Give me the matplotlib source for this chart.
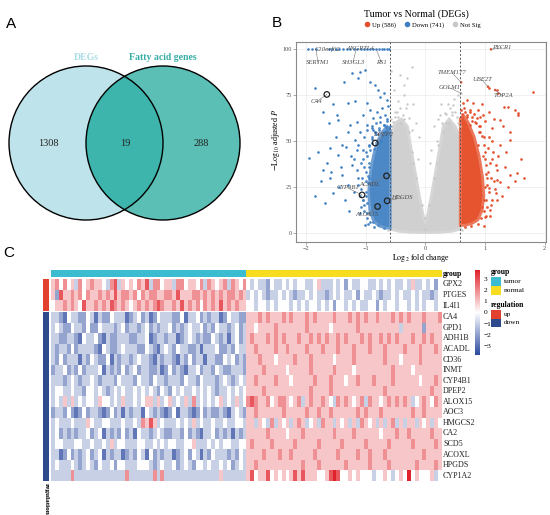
import numpy as np
import matplotlib
matplotlib.use("Agg")
import matplotlib.pyplot as plt
from matplotlib.patches import Circle, Rectangle, Polygon
from matplotlib.colors import LinearSegmentedColormap, ListedColormap
from matplotlib.lines import Line2D

plt.rcParams["font.family"] = ["Liberation Serif", "DejaVu Serif"]
plt.rcParams["mathtext.fontset"] = "stix"

W, H = 550, 515

# ---------------- A: Venn ----------------
venn_names = ["DEGs", "Fatty acid genes"]
venn_counts = [1308, 19, 288]  # DEGs only, both, fatty acid only

# ---------------- B: volcano ----------------
legend_labels = ["Up (586)", "Down (741)", "Not Sig"]
fc_cut = 0.585

# points capped at -log10 P = 100
capped_x = [-1.97, -1.90, -1.83, -1.62, -1.56, -1.50, -1.44, -1.38, -1.32, -1.26, -1.20,
            -1.14, -1.08, -1.02, -0.97, -0.92, -0.87, -0.82, -0.77, -0.73, -0.69, -0.65, -0.61]
capped_y = [100] * len(capped_x)

down_x = [-1.85, -1.37, -1.23, -1.13, -1.01, -0.93, -0.84, -0.79, -0.76, -0.70, -0.65, -1.71,
          -1.48, -1.46, -1.62, -1.15, -1.04, -0.93, -0.87, -0.81, -0.76, -0.68, -0.98, -1.26,
          -1.29, -1.09, -0.84, -1.10, -0.97, -1.18, -0.62, -0.72, -1.55, -1.30, -0.66, -0.89,
          -0.73, -1.02, -1.18, -1.40, -1.60, -1.80, -1.95, -1.71, -1.54, -1.35, -1.46, -1.23,
          -1.07, -1.60, -1.40, -1.30, -1.15, -1.25, -1.05, -1.12, -1.20, -1.00, -1.10, -1.28,
          -1.45, -1.75, -1.65, -1.33, -0.95, -1.50, -1.85, -1.68, -0.98, -1.00, -1.08, -1.42,
          -1.58, -0.99, -0.96, -1.02, -0.94, -0.97, -1.05, -0.90, -0.92, -0.88, -1.01, -0.95,
          -0.78, -0.70, -0.64, -0.83, -0.75, -0.68, -0.61, -0.86]
down_y = [78.8, 82.4, 87.0, 84.2, 88.8, 82.4, 80.6, 77.8, 74.2, 76.0, 72.4, 66.0,
          64.2, 61.5, 59.7, 60.6, 64.2, 66.9, 62.4, 66.0, 60.6, 64.2, 58.8, 58.8,
          55.1, 55.1, 55.1, 87.5, 71.0, 72.0, 69.0, 68.0, 70.0, 70.5, 57.5, 57.0,
          53.0, 52.0, 50.5, 48.0, 46.0, 44.0, 41.0, 34.2, 21.5, 17.8, 42.4, 36.9,
          14.2, 29.7, 31.5, 26.0, 45.0, 42.0, 40.0, 30.0, 22.0, 20.0, 10.5, 12.0,
          25.0, 28.0, 38.0, 47.0, 47.5, 52.0, 20.0, 16.0, 8.0, 33.0, 24.0, 36.0,
          33.0, 44.0, 27.0, 15.0, 36.0, 11.0, 18.0, 51.0, 6.0, 56.0, 4.0, 30.0,
          56.0, 58.5, 61.0, 54.0, 50.0, 55.0, 57.0, 45.5]
# points close to the dense blue core
down_mid_x = [-0.95, -0.98, -1.02, -1.00, -0.99, -0.97, -0.93, -0.88, -0.80, -0.70,
              -0.90, -0.85, -0.78, -0.70, -0.62, -0.95, -0.96, -0.93, -0.92, -0.89,
              -1.05, -1.08, -1.06, -1.04, -1.12, -1.15, -1.10, -0.90, -0.82, -0.76,
              -0.64, -0.69, -0.60, -1.02, -0.96, -0.86, -0.74, -0.97, -1.12, -1.20]
down_mid_y = [48, 42, 36, 28, 22, 16, 10, 6, 4, 2.5,
              52, 55, 57, 55, 54, 38, 31, 24, 45, 49,
              45, 38, 30, 18, 26, 34, 20, 58, 60, 63,
              62, 59, 58, 12, 5, 3, 7, 56, 48, 40]

up_x = [1.81, 1.50, 1.39, 1.06, 1.20, 0.69, 1.25, 1.56, 0.92, 1.06, 0.83, 1.42, 1.11, 1.42,
        1.25, 1.33, 1.53, 1.42, 1.25, 1.20, 1.08, 1.00, 1.18, 1.06, 0.98, 0.90, 1.00, 1.12,
        1.05, 0.75, 0.65, 0.80, 0.95, 1.15, 1.30, 0.88, 1.60, 1.35, 1.20, 1.15, 1.28, 1.10,
        1.00, 1.38, 1.50, 1.02, 1.65, 1.22, 1.31, 1.55, 0.86, 0.99, 1.04, 0.97, 1.02, 0.95,
        0.70, 0.78, 0.62, 0.74, 0.92, 0.68]
up_y = [76.6, 66.9, 68.7, 78.8, 77.8, 72.4, 61.5, 64.2, 63.3, 66.0, 60.6, 55.1, 56.9, 50.6,
        47.8, 36.0, 32.4, 31.5, 27.8, 17.8, 12.4, 8.8, 21.5, 24.2, 52.0, 58.0, 44.0, 40.0,
        33.0, 66.0, 68.0, 71.0, 70.0, 62.0, 58.0, 48.0, 40.0, 44.0, 34.0, 28.0, 20.0, 15.0,
        25.0, 25.0, 28.0, 37.0, 30.0, 76.0, 68.7, 65.2, 62.4, 18.0, 30.0, 42.0, 9.0, 14.0,
        63.0, 61.0, 65.0, 58.5, 55.0, 53.0]
# points close to the dense red core
up_mid_x = [0.98, 1.00, 1.02, 1.03, 1.01, 0.98, 0.94, 0.88, 0.76, 0.66,
            0.90, 0.85, 0.78, 0.70, 0.62, 0.95, 1.05, 1.08, 1.10, 1.07,
            1.12, 1.04, 0.92, 0.74, 0.66, 0.60, 0.82, 1.14, 1.18, 1.00,
            0.97, 0.89, 1.06, 1.12, 1.22, 1.16, 1.20, 1.09, 0.99, 0.63]
up_mid_y = [48, 40, 32, 26, 18, 12, 8, 5, 3.5, 3,
            55, 60, 63, 64, 63, 53, 46, 38, 30, 22,
            18, 14, 58, 67, 66, 67, 65, 44, 37, 61,
            64, 67, 52, 50, 42, 24, 29, 9, 3.5, 71]

ns_x = [-0.23, -0.31, -0.36, -0.48, -0.37, -0.27, -0.40, -0.54, 0.33, 0.25, 0.40, 0.47, 0.53,
        0.30, -0.45, -0.52, -0.20, -0.15, 0.15, 0.20, -0.10, 0.10, 0.38, 0.55, -0.58, -0.42,
        -0.33, -0.22, 0.22, 0.35, 0.44, -0.50, -0.12, 0.08,
        -0.55, -0.45, -0.35, -0.28, -0.22, -0.50, -0.42, -0.30, -0.58, -0.36,
        0.55, 0.45, 0.35, 0.28, 0.22, 0.50, 0.42, 0.58, 0.26, 0.48,
        -0.15, -0.20, 0.14, 0.19, -0.06, 0.06, 0.0, -0.62, 0.62, -0.03]
ns_y = [90.6, 84.2, 80.6, 66.0, 64.2, 62.4, 59.7, 60.6, 65.1, 64.2, 59.7, 69.7, 63.3,
        55.1, 72.0, 78.0, 70.0, 60.0, 58.0, 50.0, 52.0, 45.0, 70.0, 75.0, 88.0, 86.0,
        68.0, 56.0, 62.0, 60.0, 66.0, 63.0, 40.0, 38.0,
        58, 63, 62, 55, 44, 66, 68, 70, 62, 75,
        60, 64, 65, 60, 48, 66, 68, 58, 70, 73,
        30, 38, 30, 38, 15, 15, 8, 1.5, 1.5, 2]

# dense cores of the point clouds (outline)
ns_core_x = [-0.585, -0.585, -0.50, -0.40, -0.30, -0.25, -0.17, -0.10, -0.04, 0.0, 0.04, 0.10,
             0.17, 0.25, 0.30, 0.40, 0.50, 0.585, 0.585, 0.45, 0.25, 0.0, -0.25, -0.45]
ns_core_y = [2, 52, 60, 62, 58, 48, 33, 20, 10, 5, 10, 20,
             33, 48, 58, 62, 58, 52, 2, 0.8, 0.2, 0.0, 0.2, 0.8]
down_core_x = [-0.585, -0.585, -0.64, -0.72, -0.80, -0.87, -0.92, -0.95, -0.93, -0.86, -0.76, -0.66]
down_core_y = [2.5, 56, 58, 55, 50, 42, 33, 22, 12, 6, 3.5, 2.5]
up_core_x = [0.585, 0.585, 0.64, 0.72, 0.82, 0.90, 0.96, 0.98, 0.95, 0.88, 0.78, 0.66]
up_core_y = [4, 62, 64, 60, 52, 42, 30, 20, 12, 7, 5, 4]

circled_genes = ["CA4", "DPEP2", "ACADL", "CYP4B1", "HPGDS", "ALOX15"]
circled_x = [-1.65, -0.84, -0.65, -1.06, -0.64, -0.80]
circled_y = [75.4, 48.9, 31.0, 20.6, 17.4, 14.3]

label_names = ["C10orf62", "ANGPTL4", "SERTM1", "SH3GL3", "RS1", "CA4", "TMEM177", "GOLM1",
               "UBE2T", "TOP2A", "PYCR1", "DPEP2", "ACADL", "CYP4B1", "HPGDS", "ALOX15"]
label_pt_x = [-1.66, -1.08, -1.83, -1.16, -0.82, -1.65, 0.60, 0.60, 1.05, 1.17, 1.10,
              -0.84, -0.65, -1.06, -0.64, -0.80]
label_pt_y = [100, 100, 100, 100, 100, 75.4, 82.0, 76.0, 79.6, 77.8, 100,
              48.9, 31.0, 20.6, 17.4, 14.3]
label_tx_x = [-1.64, -1.09, -1.80, -1.21, -0.74, -1.83, 0.45, 0.41, 0.95, 1.30, 1.28,
              -0.70, -0.93, -1.30, -0.39, -0.98]
label_tx_y = [100.3, 100.3, 93.0, 93.0, 93.0, 71.3, 87.1, 79.0, 83.3, 74.6, 100.8,
              53.3, 26.5, 24.4, 19.0, 9.7]

# ---------------- C: heatmap ----------------
genes = ["GPX2", "PTGES", "IL4I1", "CA4", "GPD1", "ADH1B", "ACADL", "CD36", "INMT", "CYP4B1",
         "DPEP2", "ALOX15", "AOC3", "HMGCS2", "CA2", "SCD5", "ACOXL", "HPGDS", "CYP1A2"]
regulation = ["up", "up", "up"] + ["down"] * 16
n_tumor, n_normal = 50, 50
groups = ["tumor"] * n_tumor + ["normal"] * n_normal

# z-score level codes per sample, 0..8 -> (code - 4) * 0.95
tumor_codes = [
    "5646453645 6554367354 5465736645 5366455463 6545636546",
    "5275565646 5565657566 5646566556 6575556656 5656566565",
    "4556565475 5656576565 4565656765 5657565646 5657565655",
    "3321433224 3132243331 2342312433 3224133423 2331243322",
    "3432243324 2243332342 3323423233 4232343342 3243323423",
    "3322332143 3421322333 2233412332 3312343232 2432313423",
    "3233242333 3214322343 3322432134 3243322313 3342232433",
    "3242333132 4322413233 2343321323 3213242331 3322434232",
    "2334232423 3341323242 3423322312 4232133423 3243223332",
    "3332343233 4323332433 3243324332 3332433243 3323432343",
    "3443343324 4343234343 3434343243 2434334343 4323343434",
    "3435353434 4354434353 3434553534 5343536343 4345343534",
    "2332421242 3321242313 2331432321 2413321242 3223213432",
    "3433343335 4334433343 3436575343 3343435343 3433433443",
    "3423232334 2341323242 3143323432 2332423213 3423231323",
    "3443334433 4334353443 3344334343 4433445333 4343443344",
    "3312423234 2341323312 3243142323 3123424313 2433323243",
    "3433343234 3243342443 3344432343 3423432443 4334342343",
    "3333363333 3333333336 3333336363 3333333333 3335333333",
]
normal_codes = [
    "4343324334 3434433453 3343424334 4334343433 4353343424",
    "3434323343 4323343433 2343433424 3343233434 3343433234",
    "4434434344 4343434434 3424434343 3442434434 4343434434",
    "5556565556 5655565655 5565556565 6556555656 5655565556",
    "5545555655 5555565555 5455555565 5555555553 5555525555",
    "5655565656 5556556565 6556565556 5655656565 5565565655",
    "5565555655 6555565556 5556555655 5655565555 6555655565",
    "5556555455 5565556555 5545555655 5555565554 5555655555",
    "5555655555 4555556555 5565555455 5555555655 5545555555",
    "5565555655 5455555655 5655545565 5565555655 5555455565",
    "5555655555 5555556555 5655555555 5555565555 5555555655",
    "6765564566 5456356556 5436565456 3655456565 6534565465",
    "5565555556 5555565565 5655555565 6555655555 5565565555",
    "5535436354 5356534536 5535453536 5453535635 3553545354",
    "5555565555 4555655555 5565555655 5555455565 5655555655",
    "5655556555 5565555565 5555655555 6555556555 5565555565",
    "5555655565 5655555655 5556555565 5655565555 5555565555",
    "5565555555 5555655565 5555565555 5655556555 5556555565",
    "5745574545 4575755544 5787445454 4434454345 4845444534",
]
cbar_ticks = [3, 2, 1, 0, -1, -2, -3]

TUMOR_C, NORMAL_C = "#3BBCD1", "#F8DC1F"
UP_C, DOWN_C = "#E2412F", "#2E4A8E"
heat_cmap = LinearSegmentedColormap.from_list("bwr2", ["#2B49A0", "#FFFFFF", "#E0222A"])
VMAX = 3.8

fig = plt.figure(figsize=(W / 100, H / 100), dpi=100)


def px_axes(x0, y0, x1, y1):
    return fig.add_axes([x0 / W, 1 - y1 / H, (x1 - x0) / W, (y1 - y0) / H])


# ---- Venn
av = px_axes(0, 30, 270, 250)
av.set_xlim(0, 270)
av.set_ylim(250, 30)
av.axis("off")
c_left = Circle((86, 143), 77, fc="#BFE3EA", ec="none")
c_right = Circle((163, 143), 77, fc="#5CBFB6", ec="none")
av.add_patch(c_left)
av.add_patch(c_right)
inter = Circle((163, 143), 77, fc="#3EB5AC", ec="none")
av.add_patch(inter)
inter.set_clip_path(c_left)
for cx in (86, 163):
    av.add_patch(Circle((cx, 143), 77, fill=False, ec="black", lw=1.0))
av.text(86, 57, venn_names[0], color="#A9DCE6", fontsize=7, fontweight="bold", ha="center", va="center")
av.text(163, 57, venn_names[1], color="#35ADA5", fontsize=7, fontweight="bold", ha="center", va="center")
for x, n in zip([48, 125, 201], venn_counts):
    av.text(x, 143, str(n), fontsize=7.5, ha="center", va="center", color="#222222")

# ---- volcano
ax = px_axes(296, 42, 546, 242)
ax.set_xlim(-2.166, 2.021)
ax.set_ylim(-5.07, 104.0)
ax.set_xticks([-2, -1, 0, 1, 2])
ax.set_yticks([0, 25, 50, 75, 100])
ax.grid(True, color="#EBEBEB", lw=0.5, zorder=0)
ax.set_axisbelow(True)
for s in ax.spines.values():
    s.set_color("#8A8A8A")
    s.set_linewidth(0.8)
ax.tick_params(labelsize=4.5, labelcolor="#4D4D4D", length=2, width=0.5, color="#8A8A8A", pad=1.2)

ax.add_patch(Polygon(np.column_stack([ns_core_x, ns_core_y]), fc="#D0D0D0", ec="#D6D6D6", lw=2.0, zorder=1))
ax.add_patch(Polygon(np.column_stack([down_core_x, down_core_y]), fc="#4C88C6", ec="#6E9ED2", lw=2.0, zorder=2))
ax.add_patch(Polygon(np.column_stack([up_core_x, up_core_y]), fc="#E5532F", ec="#EC7659", lw=2.0, zorder=2))
ax.scatter(ns_x, ns_y, s=3, c="#C8C8C8", lw=0, zorder=2)
ax.scatter(down_mid_x, down_mid_y, s=4, c="#4F8BC8", lw=0, zorder=3)
ax.scatter(down_x, down_y, s=3.5, c="#3F7FC1", lw=0, zorder=3)
ax.scatter(capped_x, capped_y, s=3.5, c="#3F7FC1", lw=0, zorder=3)
ax.scatter(up_mid_x, up_mid_y, s=4, c="#E65A38", lw=0, zorder=3)
ax.scatter(up_x, up_y, s=3.5, c="#E4502E", lw=0, zorder=3)
ax.scatter([1.10, 0.60, 0.60, 1.05, 1.17], [100, 82, 76, 79.6, 77.8], s=3.5,
           c=["#E4502E", "#E4502E", "#C6C6C6", "#E4502E", "#E4502E"], lw=0, zorder=3)
for xv in (-fc_cut, fc_cut):
    ax.axvline(xv, color="#555555", lw=0.7, ls=(0, (2, 2)), zorder=4)
ax.scatter(circled_x, circled_y, s=16, facecolors="none", edgecolors="#222222", lw=0.9, zorder=5)
for name, px_, py_, tx, ty in zip(label_names, label_pt_x, label_pt_y, label_tx_x, label_tx_y):
    ax.plot([px_, tx], [py_, ty], color="#777777", lw=0.4, zorder=4)
    ax.text(tx, ty, name, fontsize=4.8, style="italic", color="#4D4D4D", ha="center", va="center",
            zorder=6, bbox=dict(fc="none", ec="none", pad=0))

handles = [Line2D([], [], ls="", marker="o", ms=3, mfc=c, mec=c)
           for c in ("#E4502E", "#3F7FC1", "#C8C8C8")]
fig.legend(handles, legend_labels, loc="center", bbox_to_anchor=(422 / W, 1 - 25 / H), ncol=3,
           frameon=False, fontsize=4.8, handletextpad=0.2, columnspacing=1.2, handlelength=1.0)

# ---- heatmap
def codes_to_values(codes):
    return np.array([[(int(ch) - 4) * 0.95 for ch in row.replace(" ", "")] for row in codes])


values = np.hstack([codes_to_values(tumor_codes), codes_to_values(normal_codes)])
n_up = regulation.count("up")

ag = px_axes(51, 270, 441, 277)
ag.imshow([[0 if g == "tumor" else 1 for g in groups]], cmap=ListedColormap([TUMOR_C, NORMAL_C]),
          aspect="auto", interpolation="nearest", vmin=0, vmax=1)
ag.axis("off")

blocks = [(279, 311, slice(0, n_up)), (312, 481, slice(n_up, len(genes)))]
for y0, y1, sl in blocks:
    ah = px_axes(51, y0, 441, y1)
    ah.imshow(values[sl], cmap=heat_cmap, vmin=-VMAX, vmax=VMAX, aspect="auto", interpolation="nearest")
    ah.axis("off")
    ar = px_axes(43, y0, 49, y1)
    reg_codes = [[0 if r == "up" else 1] for r in regulation[sl]]
    ar.imshow(reg_codes, cmap=ListedColormap([UP_C, DOWN_C]), vmin=0, vmax=1, aspect="auto",
              interpolation="nearest")
    ar.axis("off")
    row_h = (y1 - y0) / len(genes[sl])
    for i, g in enumerate(genes[sl]):
        fig.text(443 / W, 1 - (y0 + (i + 0.5) * row_h) / H, g, fontsize=5.8, va="center", ha="left",
                 color="#222222")

fig.text(443 / W, 1 - 273.5 / H, "group", fontsize=5.5, fontweight="bold", va="center", ha="left")
fig.text(46 / W, 1 - 483 / H, "regulation", fontsize=5.3, fontweight="bold", rotation=270,
         va="top", ha="center")

# colour key
acb = px_axes(475, 270, 480, 355)
grad = np.linspace(-VMAX, VMAX, 256).reshape(-1, 1)
acb.imshow(grad, cmap=heat_cmap, vmin=-VMAX, vmax=VMAX, aspect="auto", origin="lower",
           extent=[0, 1, -VMAX, VMAX])
acb.set_xticks([])
acb.yaxis.tick_right()
acb.set_yticks(cbar_ticks)
acb.set_yticklabels([str(t).replace("-", "\u2212") for t in cbar_ticks])
acb.tick_params(length=0, labelsize=5.3, pad=2.5)
for s in acb.spines.values():
    s.set_visible(False)

# annotation legend
ov = fig.add_axes([0, 0, 1, 1])
ov.set_xlim(0, W)
ov.set_ylim(H, 0)
ov.axis("off")
ov.text(491, 272, "group", fontsize=5.5, fontweight="bold", va="center", ha="left")
for i, (lab, col) in enumerate(zip(["tumor", "normal"], [TUMOR_C, NORMAL_C])):
    ov.add_patch(Rectangle((491, 277 + i * 9), 10, 9, fc=col, ec="none"))
    ov.text(504, 281.5 + i * 9, lab, fontsize=5.3, va="center", ha="left")
ov.text(491, 305, "regulation", fontsize=5.5, fontweight="bold", va="center", ha="left")
for i, (lab, col) in enumerate(zip(["up", "down"], [UP_C, DOWN_C])):
    ov.add_patch(Rectangle((491, 310 + i * 8.5), 10, 8.5, fc=col, ec="none"))
    ov.text(504, 314.3 + i * 8.5, lab, fontsize=5.3, va="center", ha="left")

# titles and axis labels of volcano
ov.text(416.5, 14, "Tumor vs Normal (DEGs)", fontsize=7.2, ha="center", va="center")
ov.text(276, 140, r"$-\mathrm{Log}_{10}$ adjusted $P$", fontsize=5.8, rotation=90, ha="center", va="center")
ov.text(421, 257.5, r"$\mathrm{Log}_{2}$ fold change", fontsize=5.8, ha="center", va="center")

# panel letters
for lab, x, y in [("A", 11, 24), ("B", 277, 23), ("C", 9, 253)]:
    ov.text(x, y, lab, fontsize=11, family="Liberation Sans", ha="center", va="center")

fig.savefig("out.png", dpi=100)
